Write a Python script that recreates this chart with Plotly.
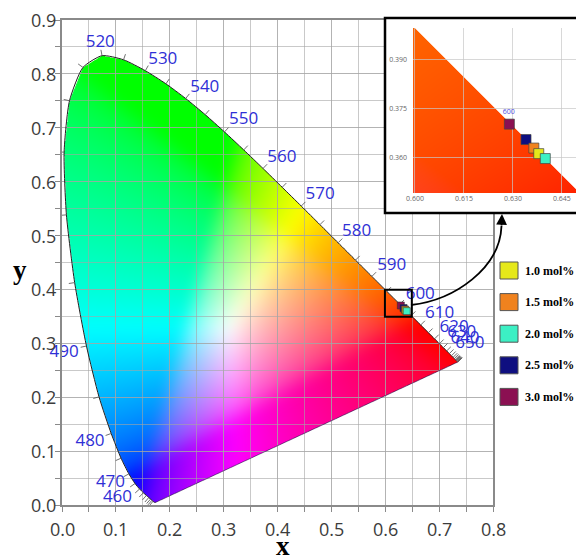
import numpy as np
import plotly.graph_objects as go
import zlib, struct, base64

# ---------------- data ----------------
# CIE 1931 2-degree spectral locus (x, y), 5 nm steps 380..700 nm
wavelengths = list(range(380, 705, 5))
locus_x = [0.1741, 0.1740, 0.1738, 0.1736, 0.1733, 0.1730, 0.1726, 0.1721, 0.1714, 0.1703,
           0.1689, 0.1669, 0.1644, 0.1611, 0.1566, 0.1510, 0.1440, 0.1355, 0.1241, 0.1096,
           0.0913, 0.0687, 0.0454, 0.0235, 0.0082, 0.0039, 0.0139, 0.0389, 0.0743, 0.1142,
           0.1547, 0.1929, 0.2296, 0.2658, 0.3016, 0.3373, 0.3731, 0.4087, 0.4441, 0.4788,
           0.5125, 0.5448, 0.5752, 0.6029, 0.6270, 0.6482, 0.6658, 0.6801, 0.6915, 0.7006,
           0.7079, 0.7140, 0.7190, 0.7230, 0.7260, 0.7283, 0.7300, 0.7311, 0.7320, 0.7327,
           0.7334, 0.7340, 0.7344, 0.7346, 0.7347]
locus_y = [0.0050, 0.0050, 0.0049, 0.0049, 0.0048, 0.0048, 0.0048, 0.0048, 0.0051, 0.0058,
           0.0069, 0.0086, 0.0109, 0.0138, 0.0177, 0.0227, 0.0297, 0.0399, 0.0578, 0.0868,
           0.1327, 0.2007, 0.2950, 0.4127, 0.5384, 0.6548, 0.7502, 0.8120, 0.8338, 0.8262,
           0.8059, 0.7816, 0.7543, 0.7243, 0.6923, 0.6589, 0.6245, 0.5896, 0.5547, 0.5202,
           0.4866, 0.4544, 0.4242, 0.3965, 0.3725, 0.3514, 0.3340, 0.3197, 0.3083, 0.2993,
           0.2920, 0.2859, 0.2809, 0.2770, 0.2740, 0.2717, 0.2700, 0.2689, 0.2680, 0.2673,
           0.2666, 0.2660, 0.2656, 0.2654, 0.2653]

# wavelength labels (positions)
label_text = ['440', '450', '460', '470', '480', '490', '500', '510', '520', '530', '540',
              '550', '560', '570', '580', '590', '600', '610', '620', '630', '640', '650']
label_x = [0.128, 0.117, 0.103, 0.090, 0.052, 0.004, -0.035, -0.028, 0.071, 0.187, 0.265,
           0.337, 0.408, 0.479, 0.547, 0.612, 0.665, 0.701, 0.728, 0.742, 0.748, 0.757]
label_y = [-0.012, -0.005, 0.014, 0.041, 0.118, 0.282, 0.528, 0.740, 0.857, 0.826, 0.774,
           0.714, 0.644, 0.575, 0.507, 0.444, 0.391, 0.354, 0.329, 0.319, 0.308, 0.300]

# samples
sample_names = ['1.0 mol%', '1.5 mol%', '2.0 mol%', '2.5 mol%', '3.0 mol%']
sample_x = [0.6379, 0.6364, 0.6399, 0.6340, 0.6289]
sample_y = [0.3612, 0.3629, 0.3597, 0.3655, 0.3702]
sample_colors = ['#e6e81a', '#f0821e', '#3cf0c4', '#0f0f80', '#8b1052']
draw_order = [4, 3, 1, 0, 2]

# axes ticks
x_ticks = [0.0, 0.1, 0.2, 0.3, 0.4, 0.5, 0.6, 0.7, 0.8]
x_ticktext = ['0.0', '0.1', '0.2', '0.3', '0.4', '0.5', '0.6', '0.7', '0.8']
y_ticks = [0.0, 0.1, 0.2, 0.3, 0.4, 0.5, 0.6, 0.7, 0.8, 0.9]
y_ticktext = ['0.0', '0.1', '0.2', '0.3', '0.4', '0.5', '0.6', '0.7', '0.8', '0.9']
inset_xticks = [0.600, 0.615, 0.630, 0.645]
inset_xticktext = ['0.600', '0.615', '0.630', '0.645']
inset_yticks = [0.360, 0.375, 0.390]
inset_yticktext = ['0.360', '0.375', '0.390']
inset_xrange = [0.5994, 0.6493]
inset_yrange = [0.3492, 0.3995]
inset_label_x = [0.6287]
inset_label_y = [0.3738]
inset_label_text = ['600']

# ---------------- helpers ----------------
W, H = 576, 558
ML, MR, MT, MB = 62, 0, 15, 53
PW, PH = W - ML - MR, H - MT - MB


def P(px, py):
    return (px - ML) / PW, (H - MB - py) / PH


def inside(px, py, vx, vy):
    res = np.zeros(px.shape, bool)
    n = len(vx)
    j = n - 1
    for i in range(n):
        xi, yi, xj, yj = vx[i], vy[i], vx[j], vy[j]
        if yi != yj:
            cond = ((yi > py) != (yj > py)) & (px < (xj - xi) * (py - yi) / (yj - yi) + xi)
            res ^= cond
        j = i
    return res


def chroma_rgb(x, y):
    y = np.maximum(y, 1e-4)
    X = x / y
    Z = (1 - x - y) / y
    r = 3.2406 * X - 1.5372 - 0.4986 * Z
    g = -0.9689 * X + 1.8758 + 0.0415 * Z
    b = 0.0557 * X - 0.2040 + 1.0570 * Z
    rgb = np.clip(np.stack([r, g, b], -1), 0, None)
    rgb = rgb / (rgb.max(-1, keepdims=True) + 1e-12)
    rgb = np.where(rgb <= 0.0031308, 12.92 * rgb, 1.055 * np.power(rgb, 1 / 2.4) - 0.055)
    return rgb


def box1d(a, r, axis):
    pad = [(0, 0)] * a.ndim
    pad[axis] = (r + 1, r)
    ap = np.pad(a, pad, mode='edge')
    c = np.cumsum(ap, axis=axis)
    n = a.shape[axis]
    hi = np.take(c, np.arange(2 * r + 1, 2 * r + 1 + n), axis=axis)
    lo = np.take(c, np.arange(0, n), axis=axis)
    return (hi - lo) / (2 * r + 1)


def blur(a, r, passes=3):
    for _ in range(passes):
        a = box1d(a, r, 0)
        a = box1d(a, r, 1)
    return a


def render(xr, yr, nx, ny, ss=2, blur_r=0):
    X = xr[0] + (np.arange(nx * ss) + 0.5) / (nx * ss) * (xr[1] - xr[0])
    Y = yr[1] - (np.arange(ny * ss) + 0.5) / (ny * ss) * (yr[1] - yr[0])
    gx, gy = np.meshgrid(X, Y)
    mask = inside(gx, gy, locus_x, locus_y).astype(float)
    rgb = chroma_rgb(gx, gy)
    if blur_r > 0:
        rgb = blur(rgb, blur_r)
    rgba = np.concatenate([rgb * mask[..., None], mask[..., None]], -1)
    rgba = rgba.reshape(ny, ss, nx, ss, 4).mean(axis=(1, 3))
    a = rgba[..., 3:4]
    rgb_out = np.where(a > 0, rgba[..., :3] / np.maximum(a, 1e-9), 0)
    out = np.concatenate([rgb_out, a], -1)
    return (np.clip(out, 0, 1) * 255 + 0.5).astype(np.uint8)


def png_uri(arr):
    h, w, _ = arr.shape
    raw = b''.join(b'\x00' + arr[i].tobytes() for i in range(h))

    def chunk(t, d):
        c = struct.pack('>I', len(d)) + t + d
        return c + struct.pack('>I', zlib.crc32(t + d) & 0xffffffff)
    png = (b'\x89PNG\r\n\x1a\n' + chunk(b'IHDR', struct.pack('>IIBBBBB', w, h, 8, 6, 0, 0, 0))
           + chunk(b'IDAT', zlib.compress(raw, 9)) + chunk(b'IEND', b''))
    return 'data:image/png;base64,' + base64.b64encode(png).decode()


# ---------------- figure ----------------
fig = go.Figure()

main_xr, main_yr = [0.0, 0.75], [0.0, 0.85]
main_img = render(main_xr, main_yr, 404, 458, blur_r=14)
inset_img = render(inset_xrange, inset_yrange, 163, 165)

images = [
    dict(source=png_uri(main_img), xref='x', yref='y', x=main_xr[0], y=main_yr[1],
         sizex=main_xr[1] - main_xr[0], sizey=main_yr[1] - main_yr[0], xanchor='left',
         yanchor='top', sizing='stretch', layer='below'),
    dict(source=png_uri(inset_img), xref='x3', yref='y3', x=inset_xrange[0], y=inset_yrange[1],
         sizex=inset_xrange[1] - inset_xrange[0], sizey=inset_yrange[1] - inset_yrange[0],
         xanchor='left', yanchor='top', sizing='stretch', layer='below'),
]

# locus outline: spectral curve (smoothed) + straight purple line
fig.add_trace(go.Scatter(x=locus_x, y=locus_y, mode='lines',
                         line=dict(color='#202020', width=1, shape='spline', smoothing=0.6),
                         hoverinfo='skip'))
fig.add_trace(go.Scatter(x=[locus_x[-1], locus_x[0]], y=[locus_y[-1], locus_y[0]], mode='lines',
                         line=dict(color='rgba(40,20,80,0.6)', width=1), hoverinfo='skip'))

# small wavelength ticks on the locus
lx, ly = np.array(locus_x), np.array(locus_y)
tx, ty = np.gradient(lx), np.gradient(ly)
tkx, tky = [], []
for i, w in enumerate(wavelengths):
    if w < 430:
        continue
    nx_, ny_ = ty[i], -tx[i]
    nn = np.hypot(nx_, ny_)
    if nn == 0:
        continue
    nx_, ny_ = nx_ / nn, ny_ / nn
    if nx_ * (lx[i] - 0.33) + ny_ * (ly[i] - 0.33) < 0:
        nx_, ny_ = -nx_, -ny_
    L = 0.011
    tkx += [lx[i], lx[i] + L * nx_, None]
    tky += [ly[i], ly[i] + L * ny_, None]
fig.add_trace(go.Scatter(x=tkx, y=tky, mode='lines', line=dict(color='#606060', width=0.9),
                         hoverinfo='skip'))

# wavelength labels
fig.add_trace(go.Scatter(x=label_x, y=label_y, mode='text', text=label_text,
                         textfont=dict(family='Open Sans', size=17, color='#2f2fd6'),
                         cliponaxis=False, hoverinfo='skip'))

# sample points in main plot
fig.add_trace(go.Scatter(x=[sample_x[i] for i in draw_order], y=[sample_y[i] for i in draw_order],
                         mode='markers',
                         marker=dict(symbol='square', size=7,
                                     color=[sample_colors[i] for i in draw_order],
                                     line=dict(color='#333', width=0.6)),
                         hoverinfo='skip'))

# dummy trace for the white frame subplot
fig.add_trace(go.Scatter(x=[0.5], y=[0.5], xaxis='x2', yaxis='y2', mode='markers',
                         marker=dict(opacity=0), hoverinfo='skip'))

# inset points
fig.add_trace(go.Scatter(x=[sample_x[i] for i in draw_order], y=[sample_y[i] for i in draw_order],
                         xaxis='x3', yaxis='y3', mode='markers',
                         marker=dict(symbol='square', size=10,
                                     color=[sample_colors[i] for i in draw_order],
                                     line=dict(color='#444', width=0.7)),
                         hoverinfo='skip'))
fig.add_trace(go.Scatter(x=inset_label_x, y=inset_label_y, xaxis='x3', yaxis='y3', mode='text',
                         text=inset_label_text,
                         textfont=dict(family='Open Sans', size=7, color='#4a4ae0'),
                         hoverinfo='skip'))

grid_col = 'rgba(165,165,165,0.6)'
axis_common = dict(ticks='outside', ticklen=5, tickcolor='#8a8a8a', showline=True,
                   linecolor='#8a8a8a', linewidth=1.5, mirror=True, showgrid=True,
                   gridcolor=grid_col, gridwidth=1, zeroline=False, showticklabels=False,
                   automargin=False, fixedrange=True)

fig.update_layout(
    width=W, height=H, margin=dict(l=ML, r=MR, t=MT, b=MB),
    paper_bgcolor='white', plot_bgcolor='white', showlegend=False,
    images=images,
    xaxis=dict(domain=[0, 431 / PW], range=[0, 0.8], tickmode='array', tickvals=x_ticks,
               anchor='y',
               minor=dict(tickmode='linear', tick0=0, dtick=0.05, ticks='outside', ticklen=5,
                          tickcolor='#8a8a8a', showgrid=True, gridcolor=grid_col),
               **axis_common),
    yaxis=dict(domain=[0, 485 / PH], range=[0, 0.9], tickmode='array', tickvals=y_ticks,
               anchor='x',
               minor=dict(tickmode='linear', tick0=0, dtick=0.05, ticks='outside', ticklen=5,
                          tickcolor='#8a8a8a', showgrid=True, gridcolor=grid_col),
               **axis_common),
    xaxis2=dict(domain=[P(385, 0)[0], 1], anchor='y2', range=[0, 1], visible=False, fixedrange=True),
    yaxis2=dict(domain=[P(0, 213)[1], P(0, 18)[1]], anchor='x2', range=[0, 1], visible=False,
                fixedrange=True),
    xaxis3=dict(domain=[P(413, 0)[0], 1], anchor='y3', range=inset_xrange, tickmode='array',
                tickvals=inset_xticks, ticktext=inset_xticktext, ticks='', showline=False,
                showgrid=True, gridcolor='rgba(200,200,200,0.7)', zeroline=False,
                tickfont=dict(family='Open Sans', size=7, color='#666'), automargin=False,
                fixedrange=True),
    yaxis3=dict(domain=[P(0, 193)[1], P(0, 28)[1]], anchor='x3', range=inset_yrange,
                tickmode='array', tickvals=inset_yticks, ticktext=inset_yticktext, ticks='',
                showline=False, showgrid=True, gridcolor='rgba(200,200,200,0.7)', zeroline=False,
                tickfont=dict(family='Open Sans', size=7, color='#666'), automargin=False,
                ticklabelstandoff=5, fixedrange=True),
)

shapes = []
# small box on main plot
shapes.append(dict(type='rect', xref='x', yref='y', x0=inset_xrange[0], x1=inset_xrange[1],
                   y0=inset_yrange[0], y1=inset_yrange[1], line=dict(color='black', width=2),
                   layer='above'))
# inset frame
fx0, fy0 = P(385, 213)
fx1, fy1 = P(580, 18)
shapes.append(dict(type='rect', xref='paper', yref='paper', x0=fx0, x1=fx1, y0=fy0, y1=fy1,
                   line=dict(color='black', width=2.5), layer='above'))
# curved arrow
p0, p1, p2, p3 = P(411, 305), P(455, 300), P(500, 268), P(501.5, 226)
path = 'M {},{} C {},{} {},{} {},{}'.format(p0[0], p0[1], p1[0], p1[1], p2[0], p2[1], p3[0], p3[1])
shapes.append(dict(type='path', xref='paper', yref='paper', path=path,
                   line=dict(color='black', width=1.8), layer='above'))

annotations = []
tip = P(502, 214)
annotations.append(dict(x=tip[0], y=tip[1], xref='paper', yref='paper', text='', showarrow=True,
                        ax=-0.5, ay=13, arrowhead=2, arrowsize=1.2, arrowwidth=1.8,
                        arrowcolor='black'))

# main tick labels
tickfont = dict(family='Open Sans', size=18, color='#3c3c3c')
for v, t in zip(x_ticks, x_ticktext):
    annotations.append(dict(x=v, y=P(0, 529)[1], xref='x', yref='paper', text=t, showarrow=False,
                            xanchor='center', yanchor='middle', font=tickfont))
for v, t in zip(y_ticks, y_ticktext):
    annotations.append(dict(x=P(57.5, 0)[0], y=v, xref='paper', yref='y', text=t, showarrow=False,
                            xanchor='right', yanchor='middle', font=tickfont))

# legend (manual)
for i, (name, col) in enumerate(zip(sample_names, sample_colors)):
    cy = 270.5 + i * 31.6
    a0 = P(500, cy + 8.5)
    a1 = P(518, cy - 8.5)
    shapes.append(dict(type='rect', xref='paper', yref='paper', x0=a0[0], x1=a1[0], y0=a0[1],
                       y1=a1[1], fillcolor=col, line=dict(color='#555', width=1), layer='above'))
    t = P(523, cy)
    annotations.append(dict(x=t[0], y=t[1], xref='paper', yref='paper', text='<b>' + name + '</b>',
                            showarrow=False, xanchor='left', yanchor='middle',
                            font=dict(family='Liberation Serif, Times New Roman, serif', size=12,
                                      color='black')))

# axis titles
xt = P(283, 546)
yt = P(20, 270)
annotations.append(dict(x=xt[0], y=xt[1], xref='paper', yref='paper', text='<b>x</b>',
                        showarrow=False, xanchor='center', yanchor='middle',
                        font=dict(family='Liberation Serif, Times New Roman, serif', size=27,
                                  color='black')))
annotations.append(dict(x=yt[0], y=yt[1], xref='paper', yref='paper', text='<b>y</b>',
                        showarrow=False, xanchor='center', yanchor='middle',
                        font=dict(family='Liberation Serif, Times New Roman, serif', size=27,
                                  color='black')))

fig.update_layout(shapes=shapes, annotations=annotations)
fig.write_html('out.html')
